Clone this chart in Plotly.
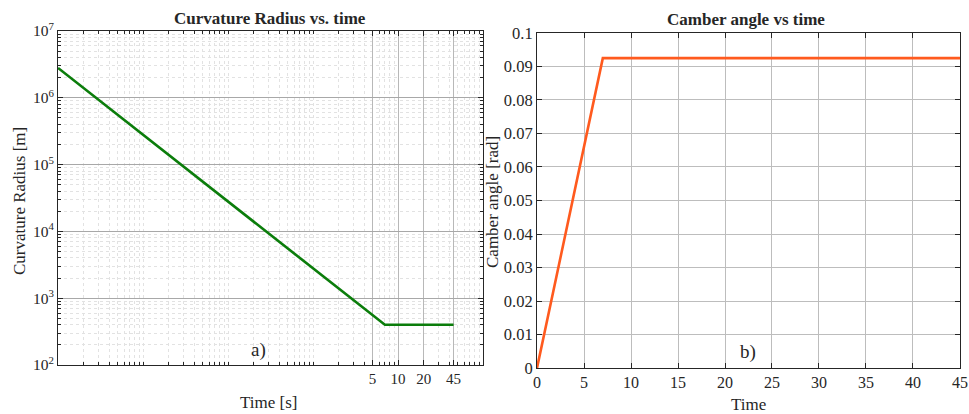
import plotly.graph_objects as go

# ---- data ----
t_radius = [0.001, 7, 45]          # time [s]
radius = [2.8e6, 400, 400]         # curvature radius [m]

t_camber = [0, 7, 45]              # time [s]
camber = [0, 0.0925, 0.0925]       # camber angle [rad]

x_ticks_left = [5, 10, 20, 45]
y_decades_left = [2, 3, 4, 5, 6, 7]
x_ticks_right = [0, 5, 10, 15, 20, 25, 30, 35, 40, 45]
y_ticks_right = [0, 0.01, 0.02, 0.03, 0.04, 0.05, 0.06, 0.07, 0.08, 0.09, 0.1]

FONT = "Liberation Serif, Times New Roman, serif"
AX = "#262626"

def log_minor(lo, hi):
    vals = []
    for e in range(lo, hi):
        for m in range(1, 10):
            vals.append(m * 10 ** e)
    vals.append(10 ** hi)
    return vals

fig = go.Figure()

fig.add_trace(go.Scatter(x=t_radius, y=radius, mode="lines",
                         line=dict(color="#0b7d0b", width=2.6),
                         xaxis="x", yaxis="y", showlegend=False))
fig.add_trace(go.Scatter(x=t_camber, y=camber, mode="lines",
                         line=dict(color="#ff5a1e", width=2.6),
                         xaxis="x2", yaxis="y2", showlegend=False))

def common(size):
    return dict(showline=True, linecolor=AX, linewidth=1, mirror="ticks",
                ticks="inside", tickcolor=AX, zeroline=False, automargin=False,
                tickfont=dict(family=FONT, size=size, color=AX))

fig.update_layout(
    width=969, height=414,
    font=dict(family=FONT, color=AX),
    margin=dict(l=0, r=0, t=0, b=0, pad=0, autoexpand=False),
    paper_bgcolor="white", plot_bgcolor="white",
    xaxis=dict(domain=[0.0599, 0.4985], anchor="y", type="log", range=[-3, 2],
               tickmode="array", tickvals=x_ticks_left,
               ticktext=[str(v) for v in x_ticks_left], ticklen=5,
               showgrid=True, gridcolor="#b8b8b8", gridwidth=1,
               minor=dict(tickmode="array", tickvals=log_minor(-3, 2),
                          ticks="inside", ticklen=3, tickcolor=AX,
                          showgrid=True, gridcolor="#e2e2e2", griddash="dot",
                          gridwidth=1),
               **common(15)),
    yaxis=dict(domain=[0.1184, 0.9251], anchor="x", type="log", range=[2, 7],
               tickmode="array", tickvals=[10 ** e for e in y_decades_left],
               ticktext=["10<sup>%d</sup>" % e for e in y_decades_left],
               ticklen=5, showgrid=True, gridcolor="#a8a8a8", gridwidth=1,
               minor=dict(tickmode="array", tickvals=log_minor(2, 7),
                          ticks="inside", ticklen=3, tickcolor=AX,
                          showgrid=True, gridcolor="#e2e2e2", griddash="dot",
                          gridwidth=1),
               **common(15.5)),
    xaxis2=dict(domain=[0.5542, 0.9907], anchor="y2", range=[0, 45],
                tickmode="array", tickvals=x_ticks_right,
                ticktext=[str(v) for v in x_ticks_right], ticklen=5,
                showgrid=True, gridcolor="#bdbdbd", gridwidth=1.2,
                **common(16)),
    yaxis2=dict(domain=[0.1111, 0.9203], anchor="x2", range=[0, 0.1],
                tickmode="array", tickvals=y_ticks_right,
                ticktext=[("%g" % v) for v in y_ticks_right], ticklen=5,
                showgrid=True, gridcolor="#bdbdbd", gridwidth=1.2,
                **common(16.5)),
)

ann = [
    dict(text="<b>Curvature Radius vs. time</b>", x=269.5 / 969,
         y=1 - 19 / 414, size=17),
    dict(text="<b>Camber angle vs time</b>", x=746 / 969, y=1 - 20 / 414,
         size=17),
    dict(text="Time [s]", x=268 / 969, y=1 - 402 / 414, size=17),
    dict(text="Time", x=748 / 969, y=1 - 404 / 414, size=17),
    dict(text="a)", x=258 / 969, y=1 - 350 / 414, size=19),
    dict(text="b)", x=748 / 969, y=1 - 352 / 414, size=19),
]
for a in ann:
    fig.add_annotation(text=a["text"], x=a["x"], y=a["y"], xref="paper",
                       yref="paper", showarrow=False, xanchor="center",
                       yanchor="middle",
                       font=dict(family=FONT, size=a["size"], color=AX))

fig.add_annotation(text="Curvature Radius [m]", x=20 / 969, y=1 - 201 / 414,
                   xref="paper", yref="paper", showarrow=False, textangle=-90,
                   xanchor="center", yanchor="middle",
                   font=dict(family=FONT, size=17, color=AX))
fig.add_annotation(text="Camber angle [rad]", x=493 / 969, y=1 - 202 / 414,
                   xref="paper", yref="paper", showarrow=False, textangle=-90,
                   xanchor="center", yanchor="middle",
                   font=dict(family=FONT, size=17, color=AX))

fig.write_html("out.html")
